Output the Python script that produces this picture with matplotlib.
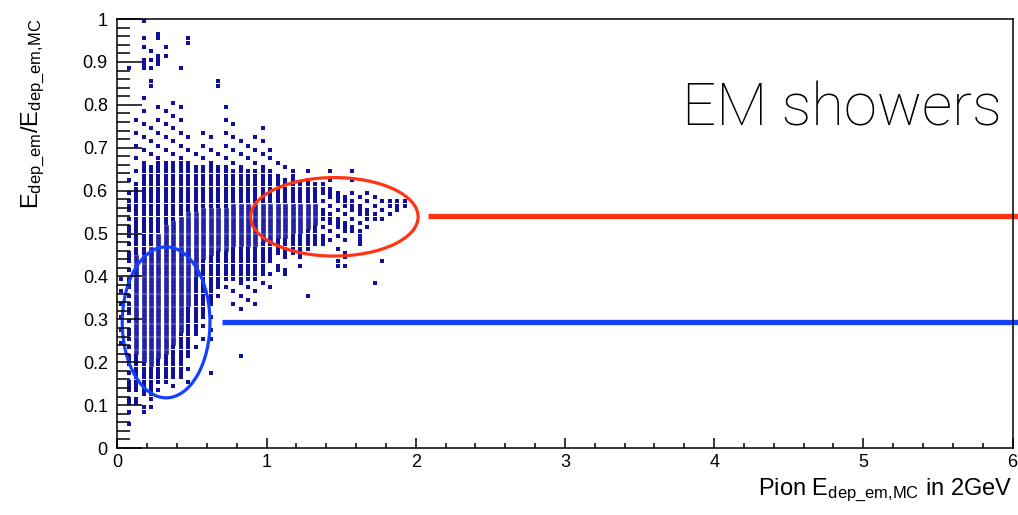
import numpy as np
import matplotlib
matplotlib.use("Agg")
import matplotlib.pyplot as plt
from matplotlib.patches import Ellipse
from matplotlib.ticker import MultipleLocator

plt.rcParams['font.family'] = ['Liberation Sans', 'DejaVu Sans']
plt.rcParams['mathtext.default'] = 'regular'

# columns of the binned scatter (x step 0.05), y rows every 0.01
col_x = [0.025, 0.075, 0.125, 0.175, 0.225, 0.275, 0.325, 0.375, 0.425, 0.475,
         0.525, 0.575, 0.625, 0.675, 0.725, 0.775, 0.825, 0.875, 0.925, 0.975,
         1.025, 1.075, 1.125, 1.175, 1.225, 1.275, 1.325, 1.375, 1.425, 1.475,
         1.525, 1.575, 1.625, 1.675, 1.725, 1.775, 1.825, 1.875, 1.925]
# populated band of each column
band_lo = [0.22, 0.10, 0.13, 0.13, 0.12, 0.15, 0.15, 0.16, 0.17, 0.21,
           0.26, 0.30, 0.34, 0.37, 0.39, 0.39, 0.38, 0.39, 0.40, 0.40,
           0.43, 0.45, 0.44, 0.45, 0.44, 0.46, 0.47, 0.47, 0.48, 0.49,
           0.49, 0.50, 0.48, 0.51, 0.53, 0.53, 0.53, 0.55, 0.56]
band_hi = [0.41, 0.60, 0.62, 0.66, 0.66, 0.67, 0.67, 0.67, 0.67, 0.66,
           0.66, 0.66, 0.66, 0.66, 0.66, 0.65, 0.65, 0.65, 0.65, 0.65,
           0.65, 0.64, 0.63, 0.64, 0.62, 0.62, 0.62, 0.62, 0.61, 0.61,
           0.60, 0.60, 0.60, 0.60, 0.59, 0.58, 0.58, 0.58, 0.58]
# keep every n-th row in the band (1 = all rows)
band_step = [3, 2, 1, 1, 1, 1, 1, 1, 1, 1,
             1, 1, 1, 1, 1, 1, 1, 1, 1, 1,
             1, 1, 1, 1, 1, 1, 1, 2, 2, 2,
             2, 2, 2, 2, 2, 2, 2, 1, 1]
# sparse halo around the band
halo_lo = [0.22, 0.10, 0.09, 0.08, 0.09, 0.13, 0.13, 0.14, 0.15, 0.13,
           0.21, 0.25, 0.25, 0.33, 0.35, 0.33, 0.32, 0.33, 0.33, 0.36,
           0.36, 0.41, 0.40, 0.44, 0.41, 0.45, 0.47, 0.47, 0.48, 0.42,
           0.44, 0.50, 0.47, 0.51, 0.53, 0.53, 0.53, 0.55, 0.56]
halo_hi = [0.41, 0.65, 0.78, 0.83, 0.75, 0.80, 0.80, 0.82, 0.82, 0.74,
           0.71, 0.76, 0.73, 0.70, 0.81, 0.76, 0.74, 0.72, 0.74, 0.75,
           0.70, 0.68, 0.68, 0.67, 0.63, 0.65, 0.62, 0.62, 0.65, 0.61,
           0.60, 0.65, 0.60, 0.60, 0.59, 0.58, 0.58, 0.58, 0.58]
# high-occupancy part (drawn with bigger markers)
dense_lo = [0, 0, 0.22, 0.20, 0.19, 0.21, 0.22, 0.24, 0.27, 0.33,
            0.40, 0.44, 0.45, 0.46, 0.46, 0.47, 0.47, 0.47, 0.47, 0.48,
            0.48, 0.49, 0.49, 0.50, 0.50, 0.51, 0.52, 0, 0, 0,
            0, 0, 0, 0, 0, 0, 0, 0, 0]
dense_hi = [0, 0, 0.45, 0.45, 0.47, 0.50, 0.52, 0.53, 0.54, 0.55,
            0.55, 0.56, 0.56, 0.56, 0.56, 0.57, 0.57, 0.57, 0.57, 0.57,
            0.57, 0.57, 0.57, 0.57, 0.57, 0.57, 0.57, 0, 0, 0,
            0, 0, 0, 0, 0, 0, 0, 0, 0]
# isolated entries
out_x = [0.175, 0.175, 0.175, 0.175, 0.175, 0.175, 0.225, 0.225, 0.225, 0.225,
         0.225, 0.075, 0.275, 0.275, 0.275, 0.275, 0.275, 0.325, 0.325, 0.425,
         0.475, 0.475, 0.675, 0.675, 0.075, 0.075, 0.075, 0.175, 0.125, 0.225,
         1.275, 1.725, 1.775, 1.525, 1.475, 1.525, 1.625, 1.125, 1.075, 0.625,
         0.625, 0.825, 1.025, 1.575, 1.425, 1.275]
out_y = [0.995, 0.955, 0.935, 0.905, 0.895, 0.885, 0.925, 0.905, 0.885, 0.855,
         0.845, 0.885, 0.965, 0.955, 0.915, 0.905, 0.895, 0.935, 0.915, 0.885,
         0.955, 0.945, 0.855, 0.845, 0.105, 0.085, 0.055, 0.085, 0.115, 0.095,
         0.355, 0.385, 0.435, 0.445, 0.425, 0.425, 0.475, 0.405, 0.415, 0.255,
         0.175, 0.215, 0.695, 0.645, 0.645, 0.645]

ellipse_blue = (0.326, 0.293, 0.588, 0.352)   # cx, cy, w, h
ellipse_red = (1.454, 0.539, 1.123, 0.183)
line_blue = (0.70, 6.04, 0.294)
line_red = (2.08, 6.04, 0.541)

rows = np.arange(0.005, 1.0, 0.01)

small_x, small_y, big_x, big_y = [], [], [], []
for i, x in enumerate(col_x):
    for k, y in enumerate(rows):
        in_band = band_lo[i] <= y <= band_hi[i] and (k + i) % band_step[i] == 0
        in_halo = halo_lo[i] <= y <= halo_hi[i] and (k + i) % 3 == 0
        if not (in_band or in_halo):
            continue
        if dense_lo[i] <= y <= dense_hi[i] and dense_hi[i] > 0:
            big_x.append(x)
            big_y.append(y)
        else:
            small_x.append(x)
            small_y.append(y)
small_x += out_x
small_y += out_y

fig = plt.figure(figsize=(10.18, 5.15), dpi=100)
ax = fig.add_axes([0.1154, 0.130, 0.8792, 0.833])

navy = '#10109a'
ax.scatter(small_x, small_y, marker='s', s=4.8, c=navy, linewidths=0)
ax.scatter(big_x, big_y, marker='s', s=7.0, facecolors='#2424aa',
           edgecolors=navy, linewidths=0.4)

cx, cy, w, h = ellipse_blue
ax.add_patch(Ellipse((cx, cy), w, h, fill=False, ec='#1440ff', lw=2.3))
cx, cy, w, h = ellipse_red
ax.add_patch(Ellipse((cx, cy), w, h, fill=False, ec='#ff3414', lw=2.3))

ax.plot(line_blue[:2], [line_blue[2]] * 2, color='#1440ff', lw=3.8,
        solid_capstyle='butt', clip_on=False)
ax.plot(line_red[:2], [line_red[2]] * 2, color='#ff3414', lw=3.8,
        solid_capstyle='butt', clip_on=False)

ax.set_xlim(0, 6)
ax.set_ylim(0, 1)
ax.xaxis.set_major_locator(MultipleLocator(1))
ax.xaxis.set_minor_locator(MultipleLocator(0.2))
ax.yaxis.set_minor_locator(MultipleLocator(0.02))
ax.set_yticks(np.round(np.arange(0, 1.01, 0.1), 1))
ax.set_yticklabels(['0', '0.1', '0.2', '0.3', '0.4', '0.5', '0.6', '0.7', '0.8', '0.9', '1'])

ax.tick_params(axis='both', which='both', direction='in', top=False, right=False,
               width=1.1, labelsize=13)
ax.tick_params(axis='y', which='major', length=18, pad=7)
ax.tick_params(axis='y', which='minor', length=9)
ax.tick_params(axis='x', which='major', length=7.5, pad=4)
ax.tick_params(axis='x', which='minor', length=3.7)
for sp in ax.spines.values():
    sp.set_linewidth(1.1)

ax.set_xlabel('Pion E$_{dep\\_em{,}MC}$ in 2GeV', loc='right', fontsize=17, labelpad=4)
ax.set_ylabel('E$_{dep\\_em}$/E$_{dep\\_em{,}MC}$', loc='top', fontsize=17, labelpad=26)

ax.text(5.93, 0.753, 'EM showers', ha='right', va='baseline', fontsize=43,
        family=['Roboto', 'Liberation Sans'], weight='light')

fig.savefig('out.png', dpi=100)
